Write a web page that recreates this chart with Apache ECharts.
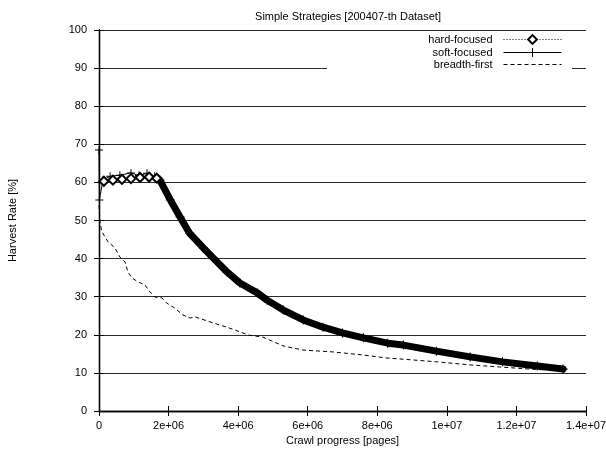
<!DOCTYPE html>
<html>
<head>
<meta charset="utf-8">
<script src="https://cdn.jsdelivr.net/npm/echarts@6/dist/echarts.min.js"></script>
<style>
html,body{margin:0;padding:0;background:#fff;}
#chart{width:606px;height:452px;}
</style>
</head>
<body>
<div id="chart"></div>
<script>
// ---- data ----
const xTickLabels = ['0','2e+06','4e+06','6e+06','8e+06','1e+07','1.2e+07','1.4e+07'];
const yTickValues = [0,10,20,30,40,50,60,70,80,90,100];

// hard-focused: early plateau (diamonds)
const hardX = [1.4e5, 4.0e5, 6.6e5, 9.2e5, 1.18e6, 1.44e6, 1.66e6];
const hardY = [60.3, 60.6, 60.8, 61.0, 61.3, 61.4, 61.1];

// soft-focused: start and plateau (plus)
const softX = [0, 1.0e4, 1.15e5, 3.2e5, 6.0e5, 9.2e5, 1.15e6, 1.38e6, 1.6e6];
const softY = [68.5, 55.4, 60.6, 61.6, 61.9, 62.5, 61.8, 62.4, 61.6];

// shared decline of both focused strategies
const declineX = [1.75e6, 2.05e6, 2.33e6, 2.6e6, 3.0e6, 3.28e6, 3.68e6, 4.05e6, 4.55e6, 4.83e6, 5.3e6, 5.87e6, 6.44e6, 7.0e6, 7.6e6, 8.3e6, 8.75e6, 9.7e6, 1.067e7, 1.16e7, 1.26e7, 1.334e7];
const declineY = [60.6, 55.4, 50.9, 46.7, 42.8, 40.2, 36.5, 33.6, 31.0, 29.1, 26.5, 23.9, 22.0, 20.5, 19.2, 17.8, 17.3, 15.7, 14.2, 12.9, 11.8, 11.0];

// breadth-first
const bfsX = [0, 3e4, 8.6e4, 2.6e5, 4.6e5, 6.0e5, 7.5e5, 8.3e5, 9.5e5, 1.12e6, 1.32e6, 1.47e6, 1.61e6, 1.81e6, 1.95e6, 2.18e6, 2.41e6, 2.62e6, 2.76e6, 3.19e6, 3.74e6, 4.31e6, 4.71e6, 5.29e6, 5.86e6, 6.73e6, 7.59e6, 8.28e6, 8.74e6, 9.72e6, 1.067e7, 1.161e7, 1.239e7, 1.282e7];
const bfsY = [54.0, 49.3, 47.0, 44.4, 42.8, 40.4, 39.1, 36.5, 34.9, 33.9, 33.1, 31.2, 29.9, 29.7, 28.3, 27.0, 25.2, 24.4, 24.7, 23.4, 21.8, 19.9, 19.4, 17.1, 16.0, 15.5, 14.7, 13.9, 13.6, 12.9, 12.1, 11.5, 11.0, 10.8];

// ---- build ----
const pairs = (xs, ys) => xs.map((x, i) => [x, ys[i]]);
const noSym = (xs, ys) => xs.map((x, i) => ({ value: [x, ys[i]], symbol: 'none' }));
const PLUS = 'path://M4.4,0h1.2v10h-1.2zM0,4.4h10v1.2h-10z';
const FONT = 'Liberation Sans';
const DOTTED = [1, 2];
const DASHED = [4, 3];

const chart = echarts.init(document.getElementById('chart'), null, { renderer: 'canvas' });

const axisCommon = {
  axisLine: { show: true, lineStyle: { color: '#000', width: 1.3 } },
  axisTick: { show: true, inside: true, length: 5, lineStyle: { color: '#000', width: 1 } }
};

const legendCommon = {
  orient: 'horizontal',
  align: 'right',
  right: 44,
  itemWidth: 58,
  itemHeight: 11,
  textStyle: { fontFamily: FONT, fontSize: 11, color: '#000', padding: [0, 6, 0, 0] },
  padding: 0,
  selectedMode: false
};

chart.setOption({
  animation: false,
  backgroundColor: '#fff',
  title: {
    text: 'Simple Strategies [200407-th Dataset]',
    left: 343, textAlign: 'center', top: 6,
    textStyle: { fontFamily: FONT, fontSize: 11, fontWeight: 'normal', color: '#000' }
  },
  grid: { left: 99, right: 20, top: 30, bottom: 41, containLabel: false, outerBoundsMode: 'none' },
  graphic: [{
    type: 'rect', z: 1,
    shape: { x: 327, y: 36, width: 245, height: 38 },
    style: { fill: '#fff' }
  }],
  legend: [
    Object.assign({}, legendCommon, { top: 34, data: ['hard-focused'],
      lineStyle: { width: 1, type: DOTTED, color: '#000' } }),
    Object.assign({}, legendCommon, { top: 47, data: ['soft-focused'],
      lineStyle: { width: 1, type: 'solid', color: '#000' } }),
    Object.assign({}, legendCommon, { top: 59,
      data: [{ name: 'breadth-first', itemStyle: { opacity: 0 } }],
      lineStyle: { width: 1, type: DASHED, color: '#000' } })
  ],
  xAxis: [
    Object.assign({}, axisCommon, {
      type: 'value', min: 0, max: 1.4e7, interval: 2e6, position: 'bottom',
      name: 'Crawl progress [pages]', nameLocation: 'middle', nameGap: 23,
      nameTextStyle: { fontFamily: FONT, fontSize: 11, color: '#000' },
      axisLabel: { fontFamily: FONT, fontSize: 11, color: '#000', margin: 9,
        formatter: v => xTickLabels[Math.round(v / 2e6)] },
      splitLine: { show: false }
    }),
    Object.assign({}, axisCommon, {
      type: 'value', min: 0, max: 1.4e7, interval: 2e6, position: 'top',
      axisLabel: { show: false }, splitLine: { show: false }
    })
  ],
  yAxis: [
    Object.assign({}, axisCommon, {
      type: 'value', min: 0, max: 100, interval: 10, position: 'left',
      name: 'Harvest Rate [%]', nameLocation: 'middle', nameGap: 81, nameRotate: 90,
      nameTextStyle: { fontFamily: FONT, fontSize: 11, color: '#000' },
      axisLabel: { fontFamily: FONT, fontSize: 11, color: '#000', margin: 12,
        formatter: v => String(yTickValues[Math.round(v / 10)]) },
      splitLine: { show: true, lineStyle: { color: '#2a2a2a', width: 1 } }
    }),
    Object.assign({}, axisCommon, {
      type: 'value', min: 0, max: 100, interval: 10, position: 'right',
      axisLabel: { show: false }, splitLine: { show: false }
    })
  ],
  series: [
    {
      name: 'hard-focused', type: 'line', z: 4,
      symbol: 'emptyDiamond', symbolSize: 9, showAllSymbol: true,
      itemStyle: { color: '#000', borderColor: '#000', borderWidth: 1 },
      lineStyle: { color: '#000', width: 1, type: DOTTED },
      data: pairs(hardX, hardY).map(p => ({ value: p })).concat(noSym(declineX, declineY))
    },
    {
      name: 'soft-focused', type: 'line', z: 3,
      symbol: PLUS, symbolSize: 8, showAllSymbol: true,
      itemStyle: { color: '#000' },
      lineStyle: { color: '#000', width: 1, type: 'solid' },
      data: pairs(softX, softY).map(p => ({ value: p })).concat(noSym(declineX, declineY))
    },
    {
      name: 'soft-focused', type: 'line', z: 3,
      symbol: PLUS, symbolSize: 9, showAllSymbol: true,
      itemStyle: { color: '#000' },
      lineStyle: { color: '#000', width: 7, type: 'solid', join: 'round', cap: 'round' },
      data: pairs(declineX, declineY)
    },
    {
      name: 'breadth-first', type: 'line', z: 2,
      symbol: 'circle', showSymbol: false,
      itemStyle: { color: '#000' },
      lineStyle: { color: '#000', width: 1, type: DASHED },
      data: pairs(bfsX, bfsY)
    }
  ]
});
</script>
</body>
</html>
